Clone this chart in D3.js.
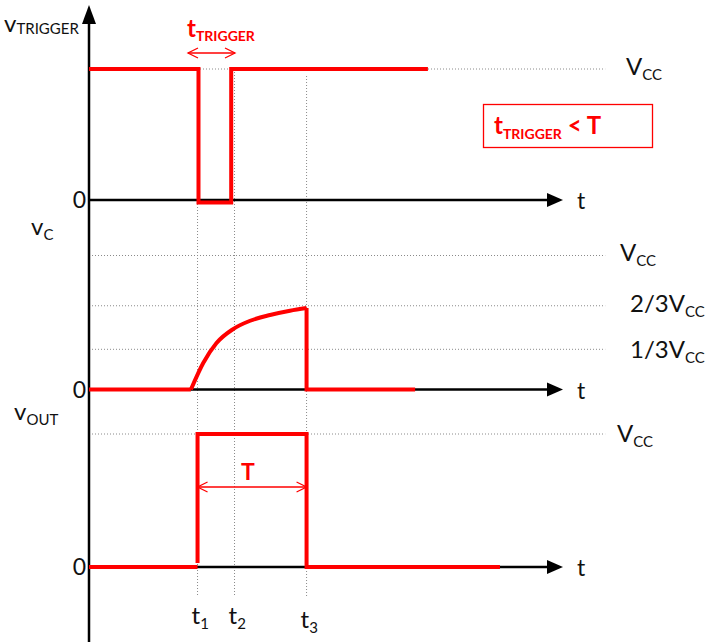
<!DOCTYPE html>
<html><head><meta charset="utf-8">
<script src="https://cdn.jsdelivr.net/npm/d3@7"></script>
<style>body{margin:0;background:#fff}svg{display:block}text{font-family:Lato,"Open Sans",sans-serif}</style>
</head><body>
<script>
// ---- data ----
const timeMarks = [2.29, 3.07, 4.59];
const timeMarkLabels = ["1", "2", "3"];
const triggerT = [0, 2.31, 2.31, 3.0, 3.0, 7.15];
const triggerV = [1, 1, -0.02, -0.02, 1, 1];
const vcLineT = [0, 2.15];
const vcLineV = [0, 0];
const vcCurveT = [2.15, 2.41, 2.69, 3.04, 3.40, 3.82, 4.24, 4.59];
const vcCurveV = [0, 0.198, 0.347, 0.451, 0.513, 0.556, 0.588, 0.608];
const vcDropT = [4.59, 4.59, 6.88];
const vcDropV = [0.608, 0, 0];
const voutLowT = [0, 2.29];
const voutLowV = [0, 0];
const voutPulseT = [2.29, 2.29, 4.59, 4.59, 8.67];
const voutPulseV = [0.03, 1, 1, 0, 0];
const midLevels = [1, 0.625, 0.30];
const dottedEnd = 10.89;

const W = 712, H = 642, red = "#ff0000";
const svg = d3.select("body").append("svg").attr("width", W).attr("height", H);

const x = d3.scaleLinear().domain([0, 10]).range([89, 563]);
const yTop = d3.scaleLinear().domain([0, 1]).range([200, 69]);
const yMid = d3.scaleLinear().domain([0, 1]).range([389.5, 255.5]);
const yBot = d3.scaleLinear().domain([0, 1]).range([567, 434]);

const gGrid = svg.append("g");
const dot = (x1, y1, x2, y2) => gGrid.append("line").attr("x1", x1).attr("y1", y1).attr("x2", x2).attr("y2", y2)
  .attr("stroke", "#8a8a8a").attr("stroke-width", 1).attr("stroke-dasharray", "1,2");

// horizontal dotted reference lines
dot(x(0), yTop(1), x(dottedEnd), yTop(1));
midLevels.forEach(v => dot(x(0), yMid(v), x(dottedEnd), yMid(v)));
dot(x(0), yBot(1), x(dottedEnd), yBot(1));
// vertical dotted time marks
timeMarks.forEach((t, i) => dot(x(t), i === 2 ? 76 : yTop(1), x(t), 597));

// axes
const gAx = svg.append("g");
gAx.append("line").attr("x1", x(0)).attr("x2", x(0)).attr("y1", 642).attr("y2", 20).attr("stroke", "#000").attr("stroke-width", 2.5);
gAx.append("path").attr("d", `M${x(0)},5 L${x(0)-7},24 L${x(0)+7},24 Z`).attr("fill", "#000");
[yTop, yMid, yBot].forEach(ys => {
  const y0 = ys(0);
  gAx.append("line").attr("x1", x(0)).attr("x2", x(10) - 12).attr("y1", y0).attr("y2", y0).attr("stroke", "#000").attr("stroke-width", 2.5);
  gAx.append("path").attr("d", `M${x(10)},${y0} L${x(10)-16},${y0-7} L${x(10)-16},${y0+7} Z`).attr("fill", "#000");
});

// signals
const drawSig = (ts, vs, ys, curve) => {
  const line = d3.line().x(d => x(d[0])).y(d => ys(d[1])).curve(curve || d3.curveLinear);
  svg.append("path").attr("d", line(d3.zip(ts, vs))).attr("fill", "none").attr("stroke", red)
    .attr("stroke-width", 4).attr("stroke-linejoin", "miter");
};
drawSig(triggerT, triggerV, yTop);
drawSig(vcLineT, vcLineV, yMid);
drawSig(vcCurveT, vcCurveV, yMid, d3.curveMonotoneX);
drawSig(vcDropT, vcDropV, yMid);
drawSig(voutLowT, voutLowV, yBot);
drawSig(voutPulseT, voutPulseV, yBot);

// text helper
function sub(xp, yp, main, s, opt = {}) {
  const t = svg.append("text").attr("x", xp).attr("y", yp).attr("fill", opt.color || "#111")
    .attr("font-size", opt.size || 24).attr("font-weight", opt.bold ? "bold" : "normal");
  t.append("tspan").text(main);
  if (s) t.append("tspan").attr("font-size", opt.subSize || 15).attr("dy", opt.dy || 5).text(s);
  if (opt.after) t.append("tspan").attr("dy", -(opt.dy || 5)).attr("font-size", opt.size || 24).text(opt.after);
  return t;
}

// y labels
sub(4, 32, "v", "TRIGGER", {dy: 2});
sub(31, 235, "v", "C");
sub(14, 420, "v", "OUT");
[yTop, yMid, yBot].forEach(ys => svg.append("text").attr("x", 86).attr("y", ys(0) + 8).attr("text-anchor", "end")
  .attr("font-size", 23).attr("fill", "#111").text("0"));
[yTop, yMid, yBot].forEach(ys => svg.append("text").attr("x", 577).attr("y", ys(0) + 9)
  .attr("font-size", 23).attr("fill", "#111").text("t"));

// right labels
sub(626, 75, "V", "CC");
sub(620, 261, "V", "CC");
sub(630, 312, "2/3V", "CC");
sub(630, 358, "1/3V", "CC");
sub(617, 442, "V", "CC");

// time labels
timeMarks.forEach((t, i) => sub(x(t) - 6, i === 2 ? 628 : 624, "t", timeMarkLabels[i], {dy: 5}));

// double arrows
function dblArrow(x1, x2, yp) {
  const g = svg.append("g").attr("stroke", red).attr("fill", "none").attr("stroke-width", 1.3);
  g.append("line").attr("x1", x1).attr("x2", x2).attr("y1", yp).attr("y2", yp);
  g.append("path").attr("d", `M${x1+10},${yp-5} L${x1},${yp} L${x1+10},${yp+5}`);
  g.append("path").attr("d", `M${x2-10},${yp-5} L${x2},${yp} L${x2-10},${yp+5}`);
}
dblArrow(188, 235, 53);
dblArrow(x(timeMarks[0]), x(timeMarks[2]), 487);

sub(187, 37, "t", "TRIGGER", {color: red, bold: true, size: 24, subSize: 14, dy: 4});
svg.append("text").attr("x", 248).attr("y", 480).attr("text-anchor", "middle").attr("font-size", 23)
  .attr("font-weight", "bold").attr("fill", red).text("T");

// condition box
svg.append("rect").attr("x", 483.5).attr("y", 104.5).attr("width", 169).attr("height", 43)
  .attr("fill", "none").attr("stroke", red).attr("stroke-width", 1.3);
sub(494, 134, "t", "TRIGGER", {color: red, bold: true, size: 24, subSize: 14, dy: 5, after: " < T"});
</script>
</body></html>
